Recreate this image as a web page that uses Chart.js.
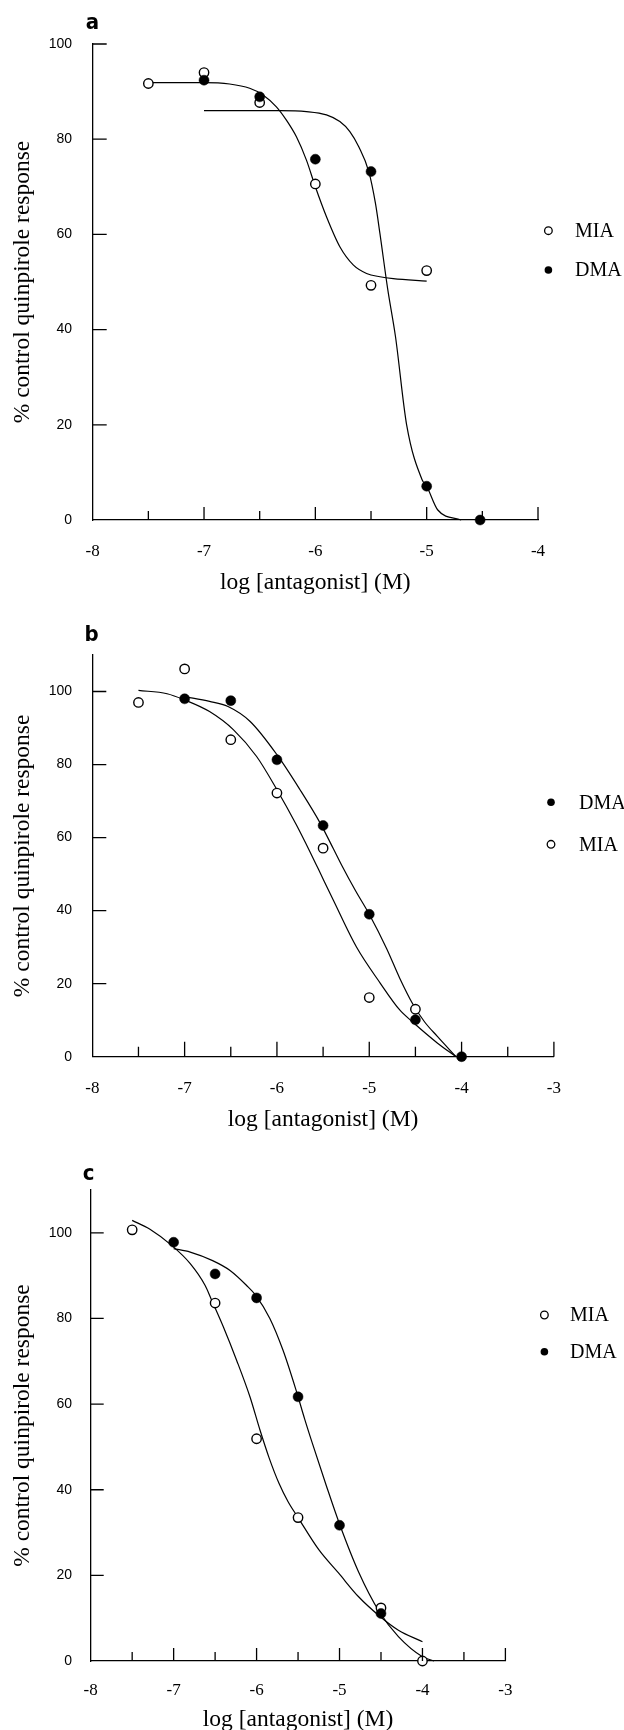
<!DOCTYPE html>
<html>
<head>
<meta charset="utf-8">
<script src="https://cdn.jsdelivr.net/npm/chart.js@4.4.0/dist/chart.umd.min.js"></script>
<style>
html, body { margin: 0; padding: 0; background: #fff; width: 624px; height: 1730px; overflow: hidden; position: relative; }
canvas { position: absolute; left: 0; }
</style>
</head>
<body>
<canvas id="cvA" width="624" height="600" style="top:0px"></canvas>
<canvas id="cvB" width="624" height="540" style="top:600px"></canvas>
<canvas id="cvC" width="624" height="600" style="top:1140px"></canvas>
<script>
// axis ticks
var yTicks = [0, 20, 40, 60, 80, 100];
var xTicksA = [-8, -7, -6, -5, -4];
var xMinorA = [-7.5, -6.5, -5.5, -4.5];
var xTicksBC = [-8, -7, -6, -5, -4, -3];
var xMinorBC = [-7.5, -6.5, -5.5, -4.5, -3.5];

// panel a : measured points
var aMiaX = [-7.5, -7, -6.5, -6, -5.5, -5];
var aMiaY = [91.7, 94.0, 87.7, 70.6, 49.3, 52.4];
var aDmaX = [-7, -6.5, -6, -5.5, -5, -4.52];
var aDmaY = [92.4, 88.9, 75.8, 73.2, 7.1, 0];
// panel a : fitted curves
var aMiaFitX = [-7.5, -7.0, -6.77, -6.59, -6.47, -6.35, -6.26, -6.17, -6.08, -6.0, -5.9, -5.78, -5.66, -5.54, -5.42, -5.3, -5.0];
var aMiaFitY = [91.9, 91.9, 91.6, 90.7, 89.3, 86.8, 84.0, 80.5, 75.6, 70.0, 63.7, 57.4, 53.6, 51.8, 51.1, 50.7, 50.2];
var aDmaFitX = [-7.0, -6.32, -6.08, -5.9, -5.78, -5.69, -5.61, -5.52, -5.46, -5.42, -5.35, -5.28, -5.18, -5.04, -5.0, -4.9, -4.69];
var aDmaFitY = [86.0, 86.0, 85.8, 85.1, 83.7, 81.6, 78.4, 73.2, 66.5, 60.2, 48.5, 38.5, 20.0, 8.4, 7.1, 2.1, 0];

// panel b
var bDmaX = [-7, -6.5, -6, -5.5, -5, -4.5, -4];
var bDmaY = [98.0, 97.5, 81.3, 63.3, 39.0, 10.1, 0];
var bMiaX = [-7.5, -7, -6.5, -6, -5.5, -5, -4.5];
var bMiaY = [97.0, 106.2, 86.8, 72.2, 57.1, 16.2, 13.0];
var bDmaFitX = [-7.0, -6.73, -6.53, -6.29, -6.0, -5.75, -5.53, -5.39, -5.3, -5.15, -5.0, -4.81, -4.67, -4.53, -4.4, -4.26, -4.06];
var bDmaFitY = [98.6, 97.3, 95.9, 91.8, 82.7, 73.1, 63.9, 57.0, 52.5, 45.5, 39.0, 29.5, 21.5, 14.5, 9.5, 5.5, 0];
var bMiaFitX = [-7.5, -7.19, -7.0, -6.73, -6.47, -6.22, -6.0, -5.79, -5.64, -5.55, -5.39, -5.14, -4.88, -4.67, -4.53, -4.26, -4.06];
var bMiaFitY = [100.3, 99.4, 97.7, 94.5, 89.5, 82.2, 73.1, 63.5, 56.0, 51.3, 42.9, 30.1, 20.1, 12.8, 9.5, 3.7, 0];

// panel c
var cMiaX = [-7.5, -6.5, -6, -5.5, -4.5, -4];
var cMiaY = [100.7, 83.6, 51.9, 33.5, 12.4, 0];
var cDmaX = [-7, -6.5, -6, -5.5, -5, -4.5];
var cDmaY = [97.8, 90.4, 84.8, 61.7, 31.7, 11.1];
var cMiaFitX = [-7.5, -7.29, -7.02, -6.8, -6.62, -6.54, -6.4, -6.24, -6.08, -5.96, -5.85, -5.73, -5.62, -5.5, -5.25, -5.01, -4.77, -4.53, -4.29, -4.0];
var cMiaFitY = [102.9, 100.9, 97.0, 92.8, 87.7, 84.2, 78.0, 70.2, 61.7, 54.0, 47.5, 41.5, 37.2, 33.5, 26.0, 20.5, 15.0, 10.7, 7.2, 4.5];
var cDmaFitX = [-7.0, -6.8, -6.53, -6.32, -6.12, -6.01, -5.84, -5.68, -5.52, -5.42, -5.33, -5.16, -5.0, -4.77, -4.52, -4.29, -4.0, -3.86];
var cDmaFitY = [96.3, 95.5, 93.5, 91.2, 87.7, 85.4, 80.0, 72.5, 63.0, 56.5, 51.0, 41.0, 32.0, 20.8, 11.5, 5.7, 1.0, 0];

var SERIF = '"Liberation Serif", "Times New Roman", serif';
var SANS = '"Liberation Sans", Arial, sans-serif';

function pts(xs, ys) {
    return xs.map(function (x, i) { return {x: x, y: ys[i]}; });
}

function openSet(xs, ys, order) {
    return {data: pts(xs, ys), pointStyle: 'circle', pointRadius: 4.7, pointBackgroundColor: '#fff',
            pointBorderColor: '#000', pointBorderWidth: 1.4, clip: false, order: order};
}

function filledSet(xs, ys, order) {
    return {data: pts(xs, ys), pointStyle: 'circle', pointRadius: 5, pointBackgroundColor: '#000',
            pointBorderColor: '#000', pointBorderWidth: 0.5, clip: false, order: order};
}

function curveSet(xs, ys) {
    return {data: pts(xs, ys), showLine: true, pointRadius: 0, borderColor: '#000', borderWidth: 1.2,
            cubicInterpolationMode: 'monotone', clip: false, order: 5};
}

// inward tick marks, legend and panel letter
var panelDecor = {
    id: 'panelDecor',
    afterDraw: function (chart, args, o) {
        var ctx = chart.ctx, xs = chart.scales.x, ys = chart.scales.y;
        ctx.save();
        ctx.strokeStyle = '#000';
        ctx.lineWidth = 1.3;
        ctx.beginPath();
        o.major.forEach(function (v) {
            if (v === xs.min) return;
            var px = xs.getPixelForValue(v);
            ctx.moveTo(px, ys.bottom);
            ctx.lineTo(px, ys.bottom - o.majorLen);
        });
        o.minor.forEach(function (v) {
            var px = xs.getPixelForValue(v);
            ctx.moveTo(px, ys.bottom);
            ctx.lineTo(px, ys.bottom - o.minorLen);
        });
        yTicks.forEach(function (v) {
            if (v === ys.min) return;
            var py = ys.getPixelForValue(v);
            ctx.moveTo(xs.left, py);
            ctx.lineTo(xs.left + o.yLen, py);
        });
        ctx.stroke();

        ctx.font = '20px ' + SERIF;
        ctx.textBaseline = 'middle';
        ctx.textAlign = 'left';
        o.legend.forEach(function (e) {
            ctx.beginPath();
            ctx.arc(o.legendX, e.y, 3.8, 0, 2 * Math.PI);
            if (e.filled) {
                ctx.fillStyle = '#000';
                ctx.fill();
            } else {
                ctx.fillStyle = '#fff';
                ctx.fill();
                ctx.lineWidth = 1.3;
                ctx.stroke();
            }
            ctx.fillStyle = '#000';
            ctx.fillText(e.label, o.textX, e.y + 1);
        });

        ctx.font = 'bold 22px "Liberation Sans Narrow", "DejaVu Sans Condensed", ' + SANS;
        ctx.textAlign = 'center';
        ctx.fillStyle = '#000';
        ctx.fillText(o.letter, o.letterX, o.letterY);
        ctx.restore();
    }
};

function makePanel(id, g, datasets, xTicks, xMinor, decor) {
    var cv = document.getElementById(id);
    var H = cv.height;
    decor.major = xTicks;
    decor.minor = xMinor;
    return new Chart(cv, {
        type: 'scatter',
        data: {datasets: datasets},
        options: {
            responsive: false,
            animation: false,
            devicePixelRatio: 1,
            events: [],
            layout: {padding: {top: g.top, right: 624 - g.right, left: 0, bottom: 0}},
            plugins: {legend: {display: false}, tooltip: {enabled: false}, panelDecor: decor},
            scales: {
                x: {
                    type: 'linear',
                    min: xTicks[0],
                    max: xTicks[xTicks.length - 1],
                    afterBuildTicks: function (s) { s.ticks = xTicks.map(function (v) { return {value: v}; }); },
                    afterFit: function (s) { s.height = H - g.bottom; },
                    grid: {display: false, drawTicks: false},
                    border: {display: true, color: '#000', width: 1.3},
                    ticks: {color: '#000', font: {family: SERIF, size: 17}, padding: g.xPad,
                            maxRotation: 0, autoSkip: false, callback: function (v) { return String(v); }},
                    title: {display: true, text: 'log [antagonist] (M)', color: '#000',
                            font: {family: SERIF, size: 23.5}, padding: {top: 0, bottom: g.xTitlePad}}
                },
                y: {
                    type: 'linear',
                    min: 0,
                    max: g.yMax,
                    afterBuildTicks: function (s) { s.ticks = yTicks.map(function (v) { return {value: v}; }); },
                    afterFit: function (s) { s.width = g.left; },
                    grid: {display: false, drawTicks: false},
                    border: {display: true, color: '#000', width: 1.3},
                    ticks: {color: '#000', font: {family: SANS, size: 14}, padding: g.left - 72},
                    title: {display: true, text: '% control quinpirole response', color: '#000',
                            font: {family: SERIF, size: 23.5}, padding: {top: 8.9, bottom: 0}}
                }
            }
        },
        plugins: [panelDecor]
    });
}

makePanel('cvA',
    {left: 92.7, right: 538, top: 44, bottom: 520, yMax: 100, xPad: 21.5, xTitlePad: 2.9},
    [filledSet(aDmaX, aDmaY, 0), openSet(aMiaX, aMiaY, 1),
     curveSet(aMiaFitX, aMiaFitY), curveSet(aDmaFitX, aDmaFitY)],
    xTicksA, xMinorA,
    {majorLen: 13, minorLen: 9, yLen: 14, legendX: 548.4, textX: 575,
     legend: [{label: 'MIA', filled: false, y: 230.7}, {label: 'DMA', filled: true, y: 270}],
     letter: 'a', letterX: 92.5, letterY: 23});

makePanel('cvB',
    {left: 92.3, right: 553.9, top: 55, bottom: 456.7, yMax: 110, xPad: 21.4, xTitlePad: 5.9},
    [openSet(bMiaX, bMiaY, 0), filledSet(bDmaX, bDmaY, 1),
     curveSet(bMiaFitX, bMiaFitY), curveSet(bDmaFitX, bDmaFitY)],
    xTicksBC, xMinorBC,
    {majorLen: 15, minorLen: 10, yLen: 14, legendX: 551, textX: 579,
     legend: [{label: 'DMA', filled: true, y: 202.3}, {label: 'MIA', filled: false, y: 244.3}],
     letter: 'b', letterX: 91.5, letterY: 35});

makePanel('cvC',
    {left: 90.7, right: 505.4, top: 50, bottom: 521, yMax: 110, xPad: 19.5, xTitlePad: 5.9},
    [filledSet(cDmaX, cDmaY, 0), openSet(cMiaX, cMiaY, 1),
     curveSet(cMiaFitX, cMiaFitY), curveSet(cDmaFitX, cDmaFitY)],
    xTicksBC, xMinorBC,
    {majorLen: 13, minorLen: 9, yLen: 13, legendX: 544.4, textX: 570,
     legend: [{label: 'MIA', filled: false, y: 175}, {label: 'DMA', filled: true, y: 211.7}],
     letter: 'c', letterX: 88.7, letterY: 34});
</script>
</body>
</html>
